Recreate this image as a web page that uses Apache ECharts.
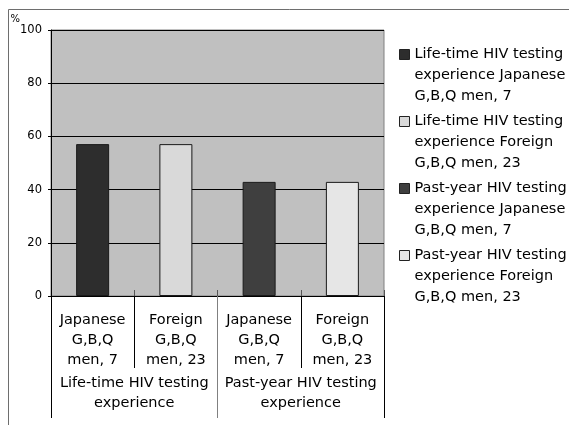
<!DOCTYPE html>
<html><head><meta charset="utf-8">
<script src="https://cdn.jsdelivr.net/npm/echarts@6/dist/echarts.min.js"></script>
<style>html,body{margin:0;padding:0;background:#fff}#c{width:569px;height:425px}</style>
</head><body><div id="c"></div>
<script>
const categories = ['Japanese\nG,B,Q\nmen, 7', 'Foreign\nG,B,Q\nmen, 23', 'Japanese\nG,B,Q\nmen, 7', 'Foreign\nG,B,Q\nmen, 23'];
const groups = ['Life-time HIV testing\nexperience', 'Past-year HIV testing\nexperience'];
const seriesNames = [
  'Life-time HIV testing\nexperience Japanese\nG,B,Q men, 7',
  'Life-time HIV testing\nexperience Foreign\nG,B,Q men, 23',
  'Past-year HIV testing\nexperience Japanese\nG,B,Q men, 7',
  'Past-year HIV testing\nexperience Foreign\nG,B,Q men, 23'
];
const values = [57.1, 57.1, 42.9, 42.9];
const yTicks = [0, 20, 40, 60, 80, 100];
const colors = ['#2d2d2d', '#d9d9d9', '#3f3f3f', '#e6e6e6'];

const FONT = 'DejaVu Sans';
const FS = 14.5;
const chart = echarts.init(document.getElementById('c'), null, {renderer: 'canvas'});
const series = seriesNames.map((name, i) => ({
  name: name,
  type: 'bar',
  stack: 'all',
  barWidth: 33,
  data: categories.map((c, j) => j === i ? values[i] : '-'),
  itemStyle: {color: colors[i], borderColor: '#1a1a1a', borderWidth: 1},
  emphasis: {disabled: true}
}));
chart.setOption({
  animation: false,
  textStyle: {fontFamily: FONT},
  graphic: [{type: 'rect', shape: {x: 8.5, y: 9.5, width: 700, height: 600}, style: {fill: 'none', stroke: '#6e6e6e', lineWidth: 1}, z: -10}],
  grid: {left: 51, top: 30, right: 185, bottom: 129, show: true, backgroundColor: '#c0c0c0', borderColor: '#808080', borderWidth: 1},
  legend: {
    orient: 'vertical', left: 399, top: 2, padding: 0,
    itemWidth: 10, itemHeight: 10, itemGap: -38,
    icon: 'rect',
    itemStyle: {borderColor: '#222', borderWidth: 1},
    textStyle: {fontFamily: FONT, fontSize: FS, color: '#000', lineHeight: 21, padding: [42, 0, 0, 0],
      rich: {n: {fontFamily: FONT, fontSize: FS, lineHeight: 21}}},
    data: seriesNames
  },
  xAxis: [
    {type: 'category', data: categories, position: 'bottom',
     axisLine: {show: true, lineStyle: {color: '#000', width: 1}},
     axisTick: {show: true, length: 72, interval: (i) => i === 1 || i === 3, lineStyle: {color: '#000'}},
     axisLabel: {interval: 0, margin: 14, fontSize: FS, lineHeight: 20, color: '#000', fontFamily: FONT}},
    {type: 'category', data: groups, position: 'bottom',
     axisLine: {show: false},
     axisTick: {show: true, length: 122, lineStyle: {color: '#808080'}},
     axisLabel: {interval: 0, margin: 77, fontSize: FS, lineHeight: 20, color: '#000', fontFamily: FONT}},
    {type: 'category', data: categories, position: 'bottom',
     axisLine: {show: false},
     axisTick: {show: true, length: 122, interval: (i) => i === 0, lineStyle: {color: '#000'}},
     axisLabel: {show: false}},
    {type: 'category', data: categories, position: 'bottom',
     axisLine: {show: false},
     axisTick: {show: true, inside: true, length: 6, interval: (i) => i > 0 && i < 4, lineStyle: {color: '#555'}},
     axisLabel: {show: false}}
  ],
  yAxis: {
    type: 'value', min: yTicks[0], max: yTicks[yTicks.length - 1], interval: 20,
    name: '%', nameLocation: 'end', nameGap: 1,
    nameTextStyle: {fontSize: 10, color: '#000', align: 'right', padding: [0, 31, 0, 0], fontFamily: FONT},
    axisLine: {show: true, lineStyle: {color: '#000'}},
    axisTick: {show: true, length: 3, lineStyle: {color: '#000'}},
    splitLine: {show: true, lineStyle: {color: '#000', width: 1}},
    axisLabel: {fontSize: 11.5, margin: 9, color: '#000', fontFamily: FONT}
  },
  series: series
});
</script></body></html>
